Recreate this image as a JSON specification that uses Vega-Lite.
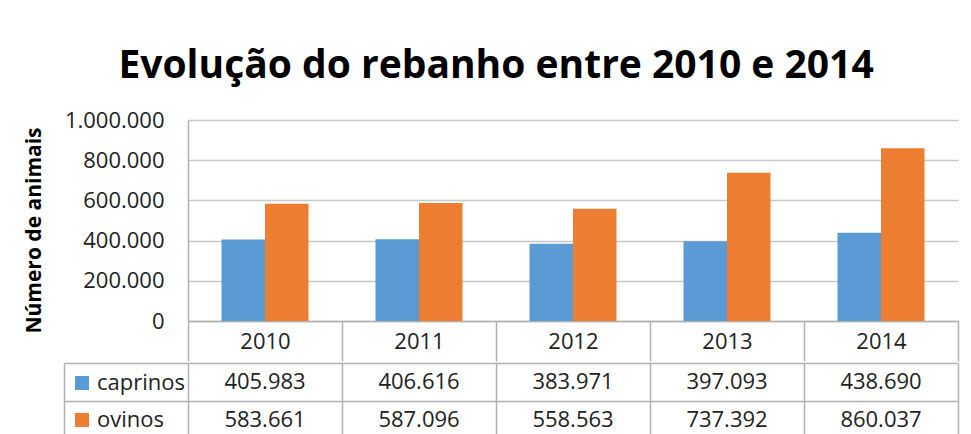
{
  "$schema": "https://vega.github.io/schema/vega-lite/v6.json",
  "padding": {"left": 23, "top": 47, "right": 11, "bottom": 0},
  "background": "white",
  "title": {
    "text": "Evolução do rebanho entre 2010 e 2014",
    "font": "Open Sans",
    "fontSize": 39,
    "fontWeight": "bold",
    "color": "#000000",
    "anchor": "middle",
    "dx": 5,
    "offset": 23
  },
  "data": {
    "values": [
      {"ano": "2010", "serie": "caprinos", "valor": 405983},
      {"ano": "2011", "serie": "caprinos", "valor": 406616},
      {"ano": "2012", "serie": "caprinos", "valor": 383971},
      {"ano": "2013", "serie": "caprinos", "valor": 397093},
      {"ano": "2014", "serie": "caprinos", "valor": 438690},
      {"ano": "2010", "serie": "ovinos", "valor": 583661},
      {"ano": "2011", "serie": "ovinos", "valor": 587096},
      {"ano": "2012", "serie": "ovinos", "valor": 558563},
      {"ano": "2013", "serie": "ovinos", "valor": 737392},
      {"ano": "2014", "serie": "ovinos", "valor": 860037}
    ]
  },
  "spacing": 0,
  "vconcat": [
    {
      "width": 770,
      "height": 201,
      "mark": {"type": "bar"},
      "encoding": {
        "x": {
          "field": "ano",
          "type": "nominal",
          "scale": {"paddingInner": 0, "paddingOuter": 0},
          "axis": {
            "title": null,
            "orient": "bottom",
            "labelAngle": 0,
            "labelFont": "Open Sans",
            "labelFontSize": 22,
            "labelColor": "#222222",
            "labelPadding": -30,
            "tickBand": "extent",
            "ticks": true,
            "tickSize": 40,
            "tickColor": "#b0b0b0",
            "tickWidth": 1.5,
            "domain": true,
            "domainColor": "#b0b0b0",
            "domainWidth": 1.5,
            "grid": false
          }
        },
        "xOffset": {
          "field": "serie",
          "type": "nominal",
          "scale": {"paddingInner": 0, "paddingOuter": 0.77}
        },
        "y": {
          "field": "valor",
          "type": "quantitative",
          "scale": {"domain": [0, 1000000], "nice": false},
          "axis": {
            "title": "Número de animais",
            "titleFont": "Open Sans",
            "titleFontSize": 21,
            "titleFontWeight": "bold",
            "titleColor": "#000000",
            "titlePadding": 20,
            "titleY": 110,
            "values": [0, 200000, 400000, 600000, 800000, 1000000],
            "format": ",d",
            "labelFont": "Open Sans",
            "labelFontSize": 22,
            "labelColor": "#222222",
            "labelPadding": 24,
            "ticks": false,
            "domain": true,
            "domainColor": "#b0b0b0",
            "domainWidth": 1.5,
            "grid": true,
            "gridColor": "#c8c8c8",
            "gridWidth": 1.5
          }
        },
        "color": {
          "field": "serie",
          "type": "nominal",
          "scale": {"domain": ["caprinos", "ovinos"], "range": ["#5B9BD5", "#ED7D31"]},
          "legend": {
            "title": null,
            "orient": "none",
            "legendX": -117,
            "legendY": 252,
            "symbolType": "square",
            "symbolSize": 196,
            "symbolStrokeWidth": 0,
            "labelFont": "Open Sans",
            "labelFontSize": 22,
            "labelColor": "#222222",
            "labelOffset": 4,
            "rowPadding": 15
          }
        }
      }
    },
    {
      "width": 770,
      "height": 76,
      "mark": {"type": "text", "font": "Open Sans", "fontSize": 22, "color": "#222222", "baseline": "middle", "align": "center"},
      "encoding": {
        "x": {
          "field": "ano",
          "type": "nominal",
          "scale": {"paddingInner": 0, "paddingOuter": 0},
          "axis": {
            "title": null,
            "labels": false,
            "ticks": false,
            "domain": false,
            "grid": true,
            "tickBand": "extent",
            "gridColor": "#b0b0b0",
            "gridWidth": 1.5
          }
        },
        "y": {
          "field": "serie",
          "type": "nominal",
          "sort": ["caprinos", "ovinos"],
          "scale": {"paddingInner": 0, "paddingOuter": 0},
          "axis": {
            "title": null,
            "labels": false,
            "offset": 124,
            "ticks": true,
            "tickSize": -124,
            "tickColor": "#b0b0b0",
            "tickWidth": 1.5,
            "tickBand": "extent",
            "domain": true,
            "domainColor": "#b0b0b0",
            "domainWidth": 1.5,
            "grid": true,
            "gridColor": "#b0b0b0",
            "gridWidth": 1.5
          }
        },
        "text": {"field": "valor", "type": "quantitative", "format": ",d"}
      }
    }
  ],
  "config": {
    "view": {"stroke": null},
    "locale": {
      "number": {"decimal": ",", "thousands": ".", "grouping": [3], "currency": ["R$ ", ""]}
    }
  }
}
